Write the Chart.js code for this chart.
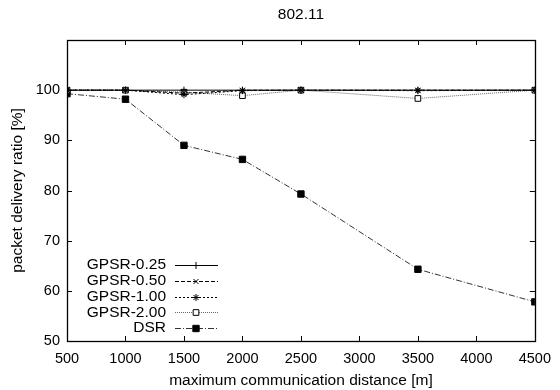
<!DOCTYPE html>
<html>
<head>
<meta charset="utf-8">
<script src="https://cdn.jsdelivr.net/npm/chart.js@4"></script>
<style>
  body { margin: 0; background: #fff; }
  #caixa { width: 560px; height: 390px; }
</style>
</head>
<body>
<div id="caixa"><canvas id="grafico"></canvas></div>
<script>
// valores
const distancias = [500, 1000, 1500, 2000, 2500, 3500, 4500];
const gpsr025 = [100, 100, 100, 100, 100, 100, 100];
const gpsr050 = [100, 100, 99.4, 100, 100, 100, 100];
const gpsr100 = [100, 100, 99.1, 99.9, 100, 99.9, 100];
const gpsr200 = [100, 100, 99.6, 98.9, 100, 98.35, 100];
const dsr = [99.3, 98.2, 89.0, 86.2, 79.3, 64.3, 57.8];
const nomes = ['GPSR-0.25', 'GPSR-0.50', 'GPSR-1.00', 'GPSR-2.00', 'DSR'];
const ticks_y = [50, 60, 70, 80, 90, 100];

const fonte = 'Liberation Sans, Arial, sans-serif';

function pontos(vals) {
    return distancias.map((d, i) => ({ x: d, y: vals[i] }));
}

function serie(nome, vals, traco, estilo, raio, fundo, cor) {
    return {
        label: nome,
        data: pontos(vals),
        borderColor: cor,
        borderWidth: 1,
        borderDash: traco,
        pointStyle: estilo,
        pointRadius: raio,
        pointBorderColor: '#000',
        pointBackgroundColor: fundo,
        pointBorderWidth: 1,
        showLine: true,
        tension: 0
    };
}

// moldura com ticks para dentro, titulo e legenda no estilo gnuplot
const estiloGnuplot = {
    id: 'estiloGnuplot',
    afterDraw(chart) {
        const ctx = chart.ctx;
        const a = chart.chartArea;
        const sx = chart.scales.x, sy = chart.scales.y;
        ctx.save();
        ctx.strokeStyle = '#000';
        ctx.lineWidth = 1.3;
        ctx.setLineDash([]);
        ctx.strokeRect(Math.round(a.left) + 0.5, Math.round(a.top) + 0.5,
            Math.round(a.right - a.left), Math.round(a.bottom - a.top));
        ctx.lineWidth = 1;
        ctx.beginPath();
        for (let v = 500; v <= 4500; v += 500) {
            const px = Math.round(sx.getPixelForValue(v)) + 0.5;
            ctx.moveTo(px, a.bottom); ctx.lineTo(px, a.bottom - 5);
            ctx.moveTo(px, a.top); ctx.lineTo(px, a.top + 5);
        }
        for (let v = 50; v <= 110; v += 10) {
            const py = Math.round(sy.getPixelForValue(v)) + 0.5;
            ctx.moveTo(a.left, py); ctx.lineTo(a.left + 5, py);
            ctx.moveTo(a.right, py); ctx.lineTo(a.right - 5, py);
        }
        ctx.stroke();

        ctx.fillStyle = '#000';
        ctx.font = '15.5px ' + fonte;
        ctx.textAlign = 'center';
        ctx.textBaseline = 'middle';
        ctx.fillText('802.11', (a.left + a.right) / 2, 15);

        // legenda
        ctx.textAlign = 'right';
        chart.data.datasets.forEach((ds, i) => {
            const y = a.bottom - 76 + i * 15.8;
            ctx.fillStyle = '#000';
            ctx.fillText(ds.label, a.left + 99, y);
            ctx.beginPath();
            ctx.strokeStyle = ds.borderColor;
            ctx.setLineDash(ds.borderDash);
            ctx.moveTo(a.left + 108, Math.round(y) + 0.5);
            ctx.lineTo(a.left + 151, Math.round(y) + 0.5);
            ctx.stroke();
            ctx.setLineDash([]);
            ctx.strokeStyle = '#000';
            ctx.fillStyle = ds.pointBackgroundColor;
            Chart.helpers.drawPoint(ctx, {
                pointStyle: ds.pointStyle, radius: ds.pointRadius,
                rotation: 0, borderWidth: 1
            }, a.left + 129, Math.round(y) + 0.5);
        });
        ctx.restore();
    }
};

const ctx = document.getElementById('grafico');
const grafico = new Chart(ctx, {
    type: 'scatter',
    data: {
        datasets: [
            serie(nomes[0], gpsr025, [], 'cross', 3.5, '#000', '#000'),
            serie(nomes[1], gpsr050, [4, 2], 'crossRot', 3.5, '#000', '#000'),
            serie(nomes[2], gpsr100, [2, 2], 'star', 3.5, '#000', '#000'),
            serie(nomes[3], gpsr200, [1, 1], 'rect', 4, '#fff', '#666'),
            serie(nomes[4], dsr, [6, 2, 1, 2], 'rect', 4.5, '#000', '#333')
        ]
    },
    options: {
        responsive: true,
        maintainAspectRatio: false,
        animation: false,
        devicePixelRatio: 1,
        layout: { padding: { top: 40, right: 19, left: 0, bottom: 0 } },
        plugins: {
            legend: { display: false },
            tooltip: { enabled: false },
            title: { display: false }
        },
        scales: {
            x: {
                type: 'linear',
                min: 500,
                max: 4500,
                grid: { display: false, drawTicks: false },
                border: { display: false },
                ticks: {
                    stepSize: 500,
                    padding: 9,
                    color: '#000',
                    font: { family: fonte, size: 14.5 },
                    maxRotation: 0,
                    callback: v => String(v)
                },
                title: {
                    display: true,
                    text: 'maximum communication distance [m]',
                    color: '#000',
                    font: { family: fonte, size: 15.5 },
                    padding: { top: 4, bottom: 0 }
                },
                afterFit: s => { s.height = 49; }
            },
            y: {
                min: 50,
                max: 110,
                grid: { display: false, drawTicks: false },
                border: { display: false },
                ticks: {
                    stepSize: 10,
                    padding: 7,
                    color: '#000',
                    font: { family: fonte, size: 14.5 },
                    callback: v => ticks_y.includes(v) ? v : ''
                },
                title: {
                    display: true,
                    text: 'packet delivery ratio [%]',
                    color: '#000',
                    font: { family: fonte, size: 15.5 },
                    padding: { top: 8, bottom: 0 }
                },
                afterFit: s => { s.width = 67; }
            }
        }
    },
    plugins: [estiloGnuplot]
});
</script>
</body>
</html>
